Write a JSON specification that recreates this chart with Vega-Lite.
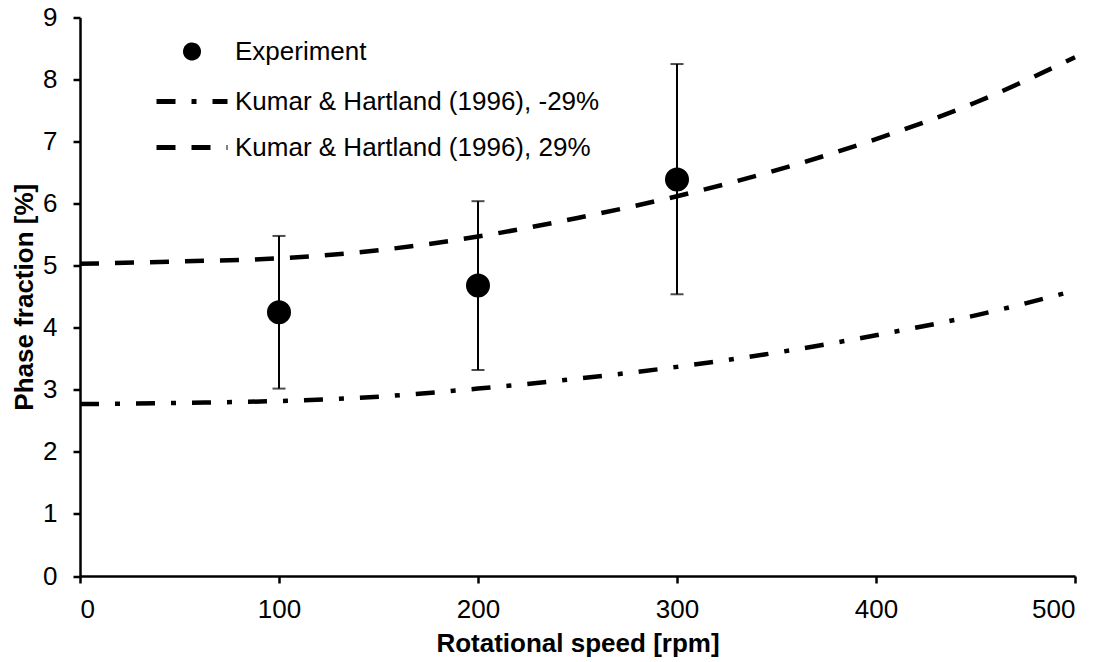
{
  "$schema": "https://vega.github.io/schema/vega-lite/v6.json",
  "autosize": "none",
  "width": 995,
  "height": 558.5,
  "padding": {"left": 80, "top": 17.5, "right": 30, "bottom": 86},
  "background": "white",
  "config": {
    "view": {"stroke": null},
    "font": "Liberation Sans",
    "axis": {
      "grid": false,
      "domainColor": "black",
      "domainWidth": 2.5,
      "tickColor": "black",
      "tickWidth": 2.5,
      "tickSize": 7,
      "labelFont": "Liberation Sans",
      "labelFontSize": 26,
      "labelColor": "black",
      "titleFont": "Liberation Sans",
      "titleFontSize": 26,
      "titleFontWeight": "bold",
      "titleColor": "black"
    },
    "legend": {
      "symbolStrokeWidth": 5,
      "symbolStrokeColor": "black",
      "symbolFillColor": "black"
    }
  },
  "datasets": {
    "exp": [
      {"rpm": 100, "frac": 4.25, "lo": 3.02, "hi": 5.48, "series": "Experiment"},
      {"rpm": 200, "frac": 4.68, "lo": 3.32, "hi": 6.04, "series": "Experiment"},
      {"rpm": 300, "frac": 6.39, "lo": 4.54, "hi": 8.25, "series": "Experiment"}
    ],
    "model": [
      {"rpm": 0, "frac": 2.77, "series": "Kumar & Hartland (1996), -29%"},
      {"rpm": 50, "frac": 2.79, "series": "Kumar & Hartland (1996), -29%"},
      {"rpm": 100, "frac": 2.82, "series": "Kumar & Hartland (1996), -29%"},
      {"rpm": 150, "frac": 2.89, "series": "Kumar & Hartland (1996), -29%"},
      {"rpm": 200, "frac": 3.02, "series": "Kumar & Hartland (1996), -29%"},
      {"rpm": 250, "frac": 3.18, "series": "Kumar & Hartland (1996), -29%"},
      {"rpm": 300, "frac": 3.37, "series": "Kumar & Hartland (1996), -29%"},
      {"rpm": 350, "frac": 3.60, "series": "Kumar & Hartland (1996), -29%"},
      {"rpm": 400, "frac": 3.88, "series": "Kumar & Hartland (1996), -29%"},
      {"rpm": 450, "frac": 4.20, "series": "Kumar & Hartland (1996), -29%"},
      {"rpm": 500, "frac": 4.60, "series": "Kumar & Hartland (1996), -29%"},
      {"rpm": 0, "frac": 5.03, "series": "Kumar & Hartland (1996), 29%"},
      {"rpm": 50, "frac": 5.07, "series": "Kumar & Hartland (1996), 29%"},
      {"rpm": 100, "frac": 5.12, "series": "Kumar & Hartland (1996), 29%"},
      {"rpm": 150, "frac": 5.25, "series": "Kumar & Hartland (1996), 29%"},
      {"rpm": 200, "frac": 5.47, "series": "Kumar & Hartland (1996), 29%"},
      {"rpm": 250, "frac": 5.77, "series": "Kumar & Hartland (1996), 29%"},
      {"rpm": 300, "frac": 6.12, "series": "Kumar & Hartland (1996), 29%"},
      {"rpm": 350, "frac": 6.54, "series": "Kumar & Hartland (1996), 29%"},
      {"rpm": 400, "frac": 7.04, "series": "Kumar & Hartland (1996), 29%"},
      {"rpm": 450, "frac": 7.63, "series": "Kumar & Hartland (1996), 29%"},
      {"rpm": 500, "frac": 8.36, "series": "Kumar & Hartland (1996), 29%"}
    ]
  },
  "layer": [
    {
      "data": {"name": "model"},
      "mark": {"type": "line", "color": "black", "strokeWidth": 4.5, "interpolate": "monotone"},
      "encoding": {
        "x": {"field": "rpm", "type": "quantitative", "scale": {"domain": [0, 500], "nice": false},
          "axis": {"values": [0, 100, 200, 300, 400, 500], "format": "d", "labelPadding": 13, "titlePadding": 8}, "title": "Rotational speed [rpm]"},
        "y": {"field": "frac", "type": "quantitative", "scale": {"domain": [0, 9], "nice": false},
          "axis": {"values": [0, 1, 2, 3, 4, 5, 6, 7, 8, 9], "format": "d", "labelPadding": 16, "titlePadding": 5}, "title": "Phase fraction [%]"},
        "detail": {"field": "series"},
        "strokeDash": {
          "field": "series", "type": "nominal",
          "scale": {
            "domain": ["Experiment", "Kumar & Hartland (1996), -29%", "Kumar & Hartland (1996), 29%"],
            "range": [[1, 0], [19, 16, 5, 16], [19, 16]]
          },
          "legend": {
            "title": null,
            "orient": "none",
            "legendX": 99,
            "legendY": 21,
            "padding": 0,
            "symbolSize": 169,
            "labelFont": "Liberation Sans",
            "labelFontSize": 26,
            "labelColor": "black",
            "labelOffset": 30,
            "rowPadding": 20,
            "labelLimit": 600,
            "encode": {"symbols": {"update": {"stroke": {"value": "black"}, "strokeWidth": {"value": 5}, "fill": {"value": "black"}, "opacity": {"value": 1}, "strokeOpacity": {"value": 1}}}}
          }
        }
      }
    },
    {
      "data": {"name": "exp"},
      "mark": {"type": "errorbar", "color": "black", "rule": {"strokeWidth": 2}, "ticks": {"size": 13, "thickness": 2}},
      "encoding": {
        "x": {"field": "rpm", "type": "quantitative", "title": "Rotational speed [rpm]"},
        "y": {"field": "lo", "type": "quantitative", "title": "Phase fraction [%]"},
        "y2": {"field": "hi"}
      }
    },
    {
      "data": {"name": "exp"},
      "mark": {"type": "point", "filled": true, "color": "black", "stroke": "black", "strokeWidth": 5, "opacity": 1, "size": 361},
      "encoding": {
        "x": {"field": "rpm", "type": "quantitative", "title": "Rotational speed [rpm]"},
        "y": {"field": "frac", "type": "quantitative", "title": "Phase fraction [%]"},
        "shape": {
          "field": "series", "type": "nominal",
          "scale": {
            "domain": ["Experiment", "Kumar & Hartland (1996), -29%", "Kumar & Hartland (1996), 29%"],
            "range": ["circle", "M-5.46,0H5.46", "M-5.46,0H5.46"]
          },
          "legend": {
            "title": null,
            "orient": "none",
            "legendX": 99,
            "legendY": 21,
            "padding": 0,
            "symbolSize": 169,
            "labelFont": "Liberation Sans",
            "labelFontSize": 26,
            "labelColor": "black",
            "labelOffset": 30,
            "rowPadding": 20,
            "labelLimit": 600,
            "encode": {"symbols": {"update": {"stroke": {"value": "black"}, "strokeWidth": {"value": 5}, "fill": {"value": "black"}, "opacity": {"value": 1}, "strokeOpacity": {"value": 1}}}}
          }
        }
      }
    }
  ]
}
